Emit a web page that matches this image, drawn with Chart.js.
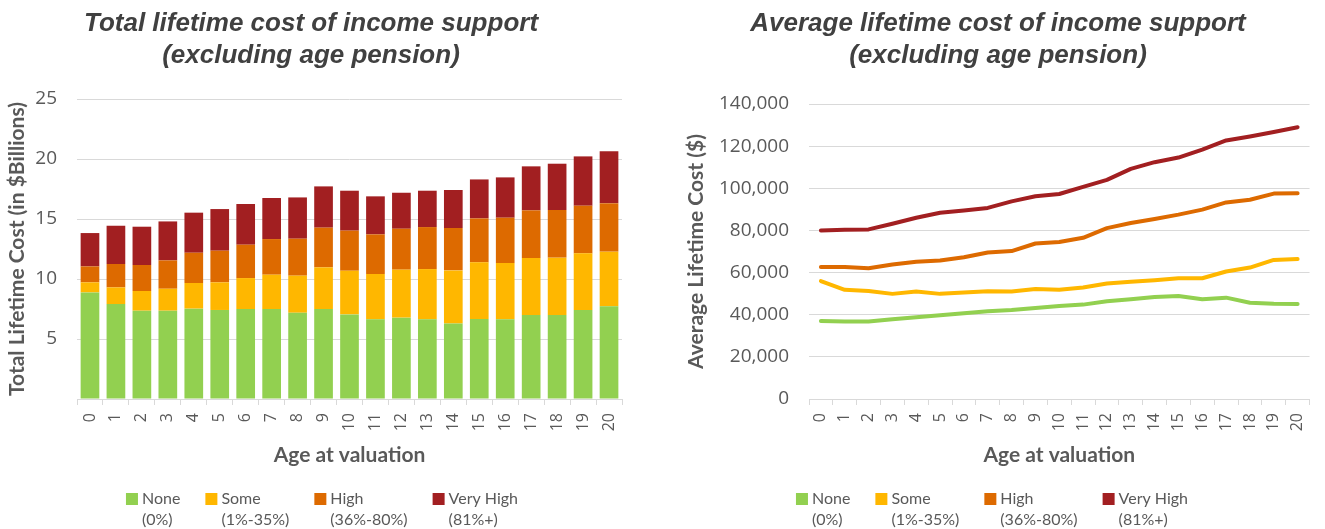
<!DOCTYPE html>
<html>
<head>
<meta charset="utf-8">
<script src="https://cdn.jsdelivr.net/npm/chart.js@4/dist/chart.umd.min.js"></script>
<style>
  html, body { margin: 0; padding: 0; background: #fff; }
  body { width: 1325px; height: 529px; position: relative; overflow: hidden; }
  #totalChart { position: absolute; left: 0; top: 0; }
  #avgChart { position: absolute; left: 655px; top: 0; }
</style>
</head>
<body>
<canvas id="totalChart" width="640" height="529"></canvas>
<canvas id="avgChart" width="670" height="529"></canvas>
<script>
// age at valuation, 0..20
const ages = ["0","1","2","3","4","5","6","7","8","9","10","11","12","13","14","15","16","17","18","19","20"];
const groups = ["None", "Some", "High", "Very High"];
const groupRanges = ["(0%)", "(1%-35%)", "(36%-80%)", "(81%+)"];
const groupColors = ["#92D050", "#FFB700", "#DD6A00", "#A21F21"];

// total lifetime cost, $ billions, stacked by group
const totalNone     = [8.88, 7.91, 7.36, 7.36, 7.53, 7.42, 7.50, 7.50, 7.19, 7.50, 7.05, 6.64, 6.78, 6.64, 6.30, 6.67, 6.64, 7.00, 7.00, 7.42, 7.72];
const totalSome     = [0.84, 1.39, 1.64, 1.83, 2.14, 2.30, 2.58, 2.86, 3.09, 3.47, 3.64, 3.78, 4.00, 4.19, 4.42, 4.72, 4.69, 4.75, 4.78, 4.72, 4.56];
const totalHigh     = [1.33, 1.95, 2.17, 2.36, 2.52, 2.64, 2.78, 2.97, 3.08, 3.31, 3.34, 3.30, 3.41, 3.50, 3.53, 3.66, 3.78, 3.97, 3.97, 3.97, 4.03];
const totalVeryHigh = [2.78, 3.19, 3.19, 3.25, 3.34, 3.47, 3.39, 3.42, 3.44, 3.44, 3.33, 3.17, 3.00, 3.03, 3.17, 3.25, 3.36, 3.67, 3.86, 4.11, 4.33];

// average lifetime cost per person, $
const avgNone     = [37000, 36800, 36800, 37800, 38800, 39700, 40700, 41600, 42200, 43200, 44100, 44800, 46400, 47300, 48400, 48900, 47300, 48100, 45700, 45200, 45100];
const avgSome     = [56000, 51800, 51300, 49900, 51000, 49900, 50500, 51100, 51000, 52200, 51800, 52900, 54800, 55700, 56400, 57300, 57300, 60500, 62400, 66000, 66400];
const avgHigh     = [62700, 62700, 62100, 63800, 65100, 65700, 67300, 69500, 70200, 73800, 74500, 76500, 81100, 83500, 85400, 87500, 89900, 93300, 94600, 97500, 97600];
const avgVeryHigh = [80000, 80300, 80500, 83200, 86000, 88400, 89500, 90700, 93800, 96200, 97300, 100700, 104000, 109200, 112400, 114600, 118400, 122700, 124600, 126700, 129000];

const GREY = "#595959";
const GRID = "#D9D9D9";
const TICK_FONT = "'Open Sans', 'Noto Sans', sans-serif";
Chart.defaults.font.family = "Lato, 'Noto Sans', sans-serif";
Chart.defaults.color = GREY;

// two-line legend under the plot, centred on the canvas
const twoLineLegend = {
    id: "twoLineLegend",
    afterDraw(chart) {
        const ctx = chart.ctx;
        const y1 = 499, y2 = 520, box = 12, textGap = 4, itemGap = 25;
        ctx.save();
        ctx.font = "16px Lato, 'Noto Sans', sans-serif";
        const widths = groups.map((g, i) =>
            box + textGap + Math.max(ctx.measureText(g).width, ctx.measureText(groupRanges[i]).width)
        );
        const total = widths.reduce((a, b) => a + b, 0) + itemGap * (groups.length - 1);
        let x = (chart.width - total) / 2 + 2;
        ctx.textBaseline = "middle";
        ctx.textAlign = "left";
        groups.forEach((g, i) => {
            ctx.fillStyle = groupColors[i];
            ctx.fillRect(x, y1 - box / 2, box, box);
            ctx.fillStyle = GREY;
            ctx.fillText(g, x + box + textGap, y1);
            ctx.fillText(groupRanges[i], x + box + textGap, y2);
            x += widths[i] + itemGap;
        });
        ctx.restore();
    }
};

function titleOpts(lines, padBottom) {
    return {
        display: true,
        text: lines,
        color: "#404040",
        font: { family: "'Liberation Sans', Arial, sans-serif", size: 26, weight: "bold", style: "italic", lineHeight: 1.22 },
        padding: { top: 8, bottom: padBottom }
    };
}

function axisTitle(text, pad) {
    return { display: true, text: text, color: GREY, font: { size: 21, weight: "bold" }, padding: pad };
}

function xAxis() {
    return {
        offset: true,
        grid: { display: true, offset: true, drawOnChartArea: false, drawTicks: true, tickLength: 6, color: GRID },
        border: { display: true, color: GRID, width: 1 },
        ticks: { color: GREY, font: { family: TICK_FONT, size: 16 }, minRotation: 90, maxRotation: 90, padding: 8, autoSkip: false },
        title: axisTitle("Age at valuation", { top: 0, bottom: 2 }),
        afterFit(scale) { scale.height = 71; }
    };
}

new Chart(document.getElementById("totalChart"), {
    type: "bar",
    data: {
        labels: ages,
        datasets: [
            { label: groups[0], data: totalNone, backgroundColor: groupColors[0] },
            { label: groups[1], data: totalSome, backgroundColor: groupColors[1] },
            { label: groups[2], data: totalHigh, backgroundColor: groupColors[2] },
            { label: groups[3], data: totalVeryHigh, backgroundColor: groupColors[3] }
        ]
    },
    options: {
        responsive: false,
        animation: false,
        layout: { padding: { left: 0, right: 18, bottom: 59, top: 0 } },
        datasets: { bar: { barPercentage: 1, categoryPercentage: 0.72, borderWidth: 0 } },
        plugins: {
            legend: { display: false },
            tooltip: { enabled: false },
            title: titleOpts(["Total lifetime cost of income support", "(excluding age pension)"], 27.6)
        },
        scales: {
            x: Object.assign(xAxis(), { stacked: true }),
            y: {
                stacked: true,
                min: 0,
                max: 25,
                grid: { color: GRID, drawTicks: false },
                border: { display: false },
                ticks: {
                    stepSize: 5,
                    padding: 20,
                    color: GREY,
                    font: { family: TICK_FONT, size: 19 },
                    callback: (v) => (v === 0 ? "" : v)
                },
                title: axisTitle("Total Lifetime Cost (in $Billions)", { top: 5, bottom: 0 }),
                afterFit(scale) { scale.width = 77; }
            }
        }
    },
    plugins: [twoLineLegend]
});

const avgSeries = [avgNone, avgSome, avgHigh, avgVeryHigh];

new Chart(document.getElementById("avgChart"), {
    type: "line",
    data: {
        labels: ages,
        datasets: avgSeries.map((d, i) => ({
            label: groups[i],
            data: d,
            borderColor: groupColors[i],
            backgroundColor: groupColors[i],
            borderWidth: 4,
            pointRadius: 0,
            tension: 0,
            borderCapStyle: "round",
            borderJoinStyle: "round"
        }))
    },
    options: {
        responsive: false,
        animation: false,
        layout: { padding: { left: 24, right: 8, bottom: 59, top: 0 } },
        plugins: {
            legend: { display: false },
            tooltip: { enabled: false },
            title: titleOpts(["Average lifetime cost of income support", "(excluding age pension)"], 32.6)
        },
        scales: {
            x: xAxis(),
            y: {
                min: 0,
                max: 140000,
                grid: { color: GRID, drawTicks: false },
                border: { display: false },
                ticks: {
                    stepSize: 20000,
                    padding: 20,
                    color: GREY,
                    font: { family: TICK_FONT, size: 19 },
                    callback: (v) => v.toLocaleString("en-US")
                },
                title: axisTitle("Average Lifetime Cost ($)", { top: 5, bottom: 0 }),
                afterFit(scale) { scale.width = 130; }
            }
        }
    },
    plugins: [twoLineLegend]
});
</script>
</body>
</html>
